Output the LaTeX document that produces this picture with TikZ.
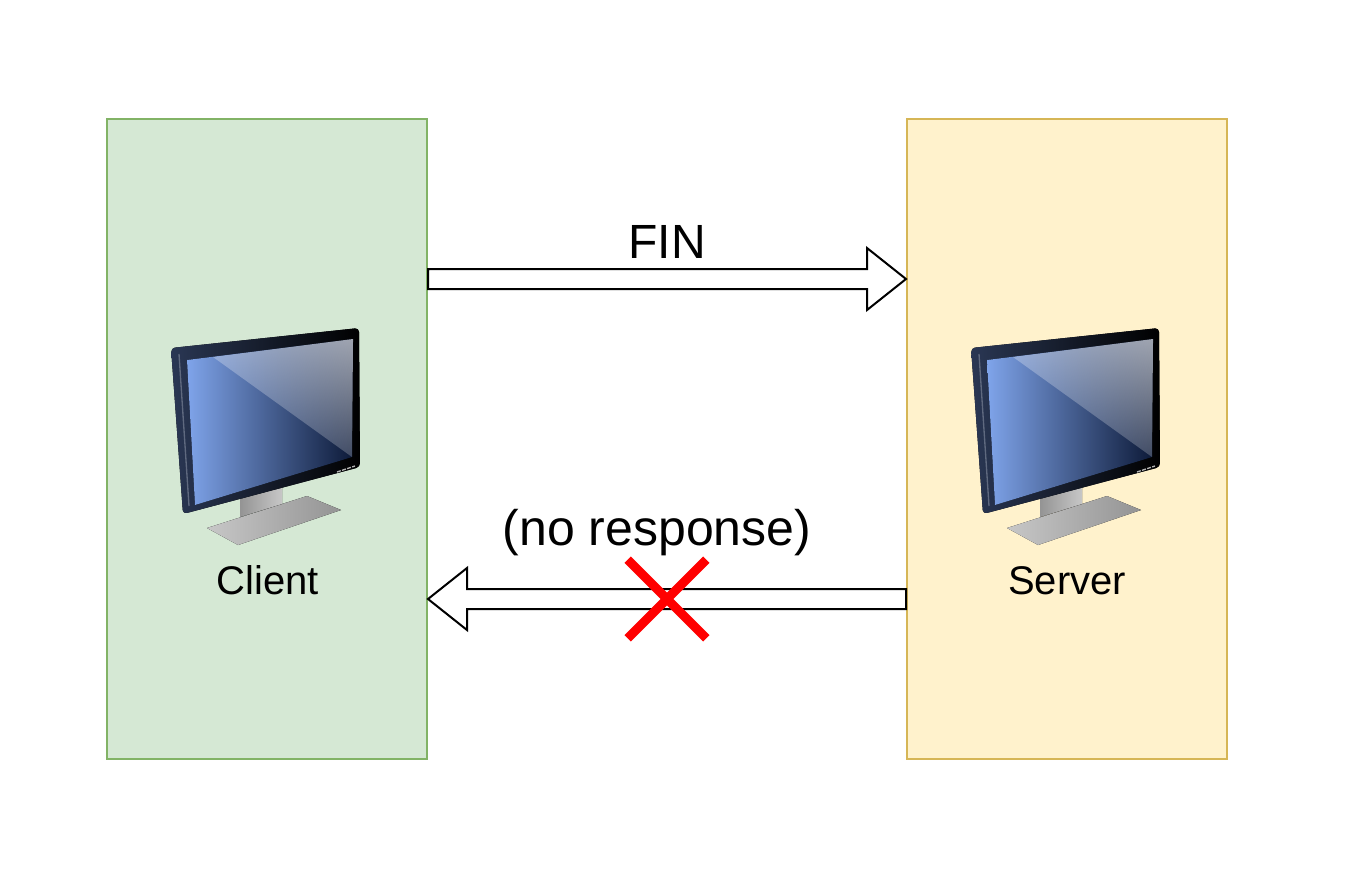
\documentclass[tikz,border=0pt]{standalone}
\usepackage{fontspec}
\setmainfont{Liberation Sans}
\usepackage{tikz}
\usetikzlibrary{calc}
\usetikzlibrary{fadings}
\usetikzlibrary{shapes.misc}
\definecolor{clientfill}{HTML}{D5E8D4}
\definecolor{clientline}{HTML}{82B366}
\definecolor{serverfill}{HTML}{FFF2CC}
\definecolor{serverline}{HTML}{D6B656}
\definecolor{screenblue}{HTML}{7FA4EA}
\definecolor{screennavy}{HTML}{0D1A38}
\definecolor{bezelblue}{HTML}{2A3754}
\pgfdeclareverticalshading{glassshade}{100bp}{color(0bp)=(black); color(25bp)=(black!96!white); color(100bp)=(black!25!white)}
\tikzfading[name=glassfade, shading=glassshade]
\tikzstyle{hostbox}=[draw, line width=1.5pt, inner sep=0, outer sep=0, minimum width=240pt, minimum height=480pt]
\tikzstyle{hostlabel}=[inner sep=0, anchor=base, font=\fontsize{30}{30}\selectfont]
\tikzstyle{msglabel}=[inner sep=0, anchor=base, font=\fontsize{36}{36}\selectfont]
\tikzstyle{lostmark}=[draw=red, cross out, line width=6.75pt, inner sep=0, outer sep=0, minimum size=59pt]
\tikzstyle{flexarrow}=[draw=black, fill=white, line width=1.5pt, line join=miter,
                       % Outline of a wide arrow from start to target.
                       to path={($(\tikztostart)!7.5pt!90:(\tikztotarget)$)
                         -- ($(\tikztotarget)!29.25pt!(\tikztostart)!7.5pt!-90:(\tikztostart)$)
                         -- ($(\tikztotarget)!29.25pt!(\tikztostart)!23.25pt!-90:(\tikztostart)$)
                         -- (\tikztotarget)
                         -- ($(\tikztotarget)!29.25pt!(\tikztostart)!23.25pt!90:(\tikztostart)$)
                         -- ($(\tikztotarget)!29.25pt!(\tikztostart)!7.5pt!90:(\tikztostart)$)
                         -- ($(\tikztostart)!7.5pt!-90:(\tikztotarget)$) -- cycle}]
\tikzset{monitorpic/.pic={
        % Stand.
        \fill[left color=black!22, right color=black!42] (-60, 89) -- (40, 57) -- (74, 71) -- (-29, 106) -- cycle;
        \fill[left color=black!42, right color=black!22] (-27, 60) -- (15, 48) -- (15, 65) -- (-27, 78) -- cycle;
        % Bezel.
        \fill[rounded corners=3pt, left color=bezelblue, right color=black] (-96, -91) -- (92, -111) -- (93, 28) -- (-84, 75) -- cycle;
        \draw[bezelblue!75!white, line width=1pt] (-88, -85) -- (-78, 67);
        % Screen.
        \fill[left color=screenblue, right color=screennavy] (-80, -79) -- (86, -100) -- (85, 18) -- (-72, 66) -- cycle;
        \fill[white, path fading=glassfade, fit fading=true, fading angle=-35] (-54, -82) -- (86, -100) -- (85, 18) -- cycle;
        % Buttons.
        \draw[white!70!black, line width=1pt, dash pattern=on 3pt off 1pt] (70, 33) -- (88, 27);
    }}
\begin{document}
\begin{tikzpicture}[x=0.75pt, y=-0.75pt]
    \useasboundingbox (0, 0) rectangle (1356, 876);
    \node[hostbox, fill=clientfill, draw=clientline] (client) at (267, 439) {};
    \node[hostbox, fill=serverfill, draw=serverline] (server) at (1067, 439) {};
    \pic at (client.center) {monitorpic};
    \pic at (server.center) {monitorpic};
    \node[hostlabel] (clientlabel) at (268, 594) {Client};
    \node[hostlabel] (serverlabel) at (1067, 594) {Server};
    \coordinate (finstart) at ($(client.north east)!0.25!(client.south east) + (1, 0)$);
    \coordinate (finend) at ($(server.north west)!0.25!(server.south west) + (-1, 0)$);
    \coordinate (ackstart) at ($(server.north west)!0.75!(server.south west) + (-1, 0)$);
    \coordinate (ackend) at ($(client.north east)!0.75!(client.south east) + (1, 0)$);
    \draw[flexarrow] (finstart) to (finend);
    \draw[flexarrow] (ackstart) to (ackend);
    \node[msglabel] (finlabel) at (667, 258) {FIN};
    \node[msglabel, font=\fontsize{37.5}{37.5}\selectfont] (acklabel) at (657, 545) {(no response)};
    \node[lostmark] (lost) at (667, 599) {};
\end{tikzpicture}
\end{document}
